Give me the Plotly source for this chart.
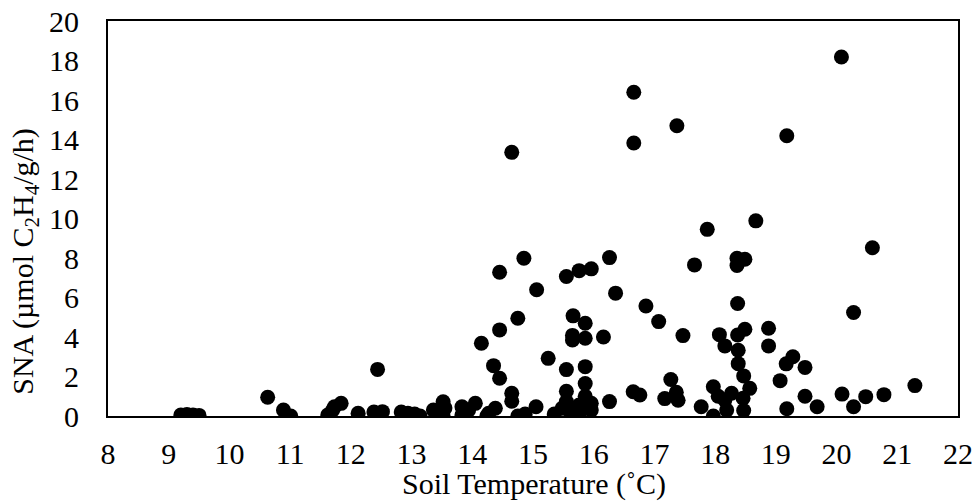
import plotly.graph_objects as go

# Soil temperature (°C) and SNA (µmol C2H4/g/h)
soil_temp = [
    9.2, 9.3, 9.4, 9.5,
    10.63, 10.89, 11.01,
    11.62, 11.7, 11.73, 11.84,
    12.12, 12.44, 12.38, 12.52,
    12.83, 12.94, 13.05, 13.14,
    13.36, 13.44, 13.52, 13.52, 13.55,
    13.83, 13.83, 13.94, 14.05,
    14.15, 14.27, 14.24, 14.38,
    14.35, 14.45, 14.45, 14.45,
    14.65, 14.65, 14.65,
    14.75, 14.85, 14.75, 14.87,
    15.05, 15.06, 15.25, 15.35,
    15.55, 15.76, 15.96,
    15.66, 15.86,
    15.65, 15.65, 15.86, 16.16,
    15.55, 15.86, 15.86, 15.55,
    15.48, 15.55, 15.59, 15.76, 15.76, 15.86, 15.86, 15.96, 15.96,
    16.26, 16.26, 16.36,
    16.66, 16.66, 16.65, 16.76,
    16.86, 17.07, 17.47, 17.37,
    17.27, 17.17, 17.36, 17.39,
    17.66, 17.77, 17.97, 17.97, 17.87,
    18.67, 18.36, 18.49, 18.36, 18.37,
    18.07, 18.37, 18.49,
    18.16, 18.38, 18.38, 18.47, 18.57,
    18.05, 18.27, 18.16, 18.19, 18.46, 18.47,
    18.88, 18.88,
    19.18, 19.28, 19.17, 19.48, 19.07,
    19.18, 19.48, 19.68,
    20.08, 20.59, 20.28,
    20.09, 20.28, 20.48, 20.78, 21.29,
]
sna = [
    0.05, 0.08, 0.05, 0.03,
    0.95, 0.3, 0.0,
    0.05, 0.3, 0.47, 0.64,
    0.14, 2.36, 0.2, 0.22,
    0.2, 0.14, 0.1, 0.0,
    0.3, 0.1, 0.72, 0.0, 0.4,
    0.47, 0.05, 0.3, 0.64,
    3.68, 0.14, 0.0, 0.39,
    2.55, 1.91, 4.36, 7.28,
    13.35, 1.15, 0.75,
    4.95, 7.99, 0.0, 0.1,
    0.47, 6.39, 2.92, 0.1,
    7.06, 7.36, 7.45,
    5.07, 4.70,
    4.08, 3.85, 3.94, 4.0,
    2.35, 2.5, 1.64, 1.25,
    0.39, 0.73, 0.3, 0.56, 0.14, 0.81, 1.0, 0.64, 0.3,
    0.73, 8.02, 6.22,
    16.39, 13.82, 1.23, 1.06,
    5.57, 4.78, 4.07, 14.70,
    1.85, 0.88, 1.2, 0.8,
    7.65, 0.47, 0.0, 1.48, 9.45,
    9.88, 7.99, 7.94, 7.62, 5.7,
    4.12, 4.1, 4.39,
    3.55, 3.33, 2.65, 2.03, 1.4,
    1.0, 1.15, 0.81, 0.3, 0.9, 0.28,
    4.44, 3.55,
    14.19, 3.0, 2.64, 2.46, 1.79,
    0.37, 1.0, 0.47,
    18.18, 8.52, 5.24,
    1.11, 0.47, 0.98, 1.08, 1.54,
]

x_ticks = list(range(8, 23))
y_ticks = list(range(0, 21, 2))

FONT = "Liberation Serif, Times New Roman, serif"
FS = 30

fig = go.Figure(
    go.Scatter(
        x=soil_temp,
        y=sna,
        mode="markers",
        marker=dict(color="black", size=15, line=dict(width=0)),
        showlegend=False,
    )
)

fig.update_layout(
    width=980,
    height=501,
    margin=dict(l=108, r=22, t=21, b=85, autoexpand=False),
    paper_bgcolor="white",
    plot_bgcolor="white",
    font=dict(family=FONT, size=FS, color="black"),
)

fig.update_xaxes(
    range=[8, 22],
    tickvals=x_ticks,
    ticktext=[str(v) for v in x_ticks],
    showgrid=False,
    zeroline=False,
    showline=True,
    linecolor="black",
    linewidth=2,
    mirror=True,
    ticks="",
    automargin=False,
    ticklabelstandoff=10,
    tickfont=dict(family=FONT, size=FS, color="black"),
)

fig.update_yaxes(
    range=[0, 20],
    tickvals=y_ticks,
    ticktext=[str(v) for v in y_ticks],
    showgrid=False,
    zeroline=False,
    showline=True,
    linecolor="black",
    linewidth=2,
    mirror=True,
    ticks="",
    automargin=False,
    ticklabelstandoff=21,
    tickfont=dict(family=FONT, size=FS, color="black"),
)

fig.add_annotation(
    text="Soil Temperature (˚C)",
    xref="paper",
    yref="paper",
    x=0.501,
    y=(416 - 484) / 394.5,
    xanchor="center",
    yanchor="middle",
    showarrow=False,
    font=dict(family=FONT, size=FS, color="black"),
)

fig.add_annotation(
    text="SNA (µmol C<sub>2</sub>H<sub>4</sub>/g/h)",
    xref="paper",
    yref="paper",
    x=(25 - 108) / 850,
    y=(416 - 262) / 394.5,
    xanchor="center",
    yanchor="middle",
    textangle=-90,
    showarrow=False,
    font=dict(family=FONT, size=FS, color="black"),
)

fig.write_html("out.html")
